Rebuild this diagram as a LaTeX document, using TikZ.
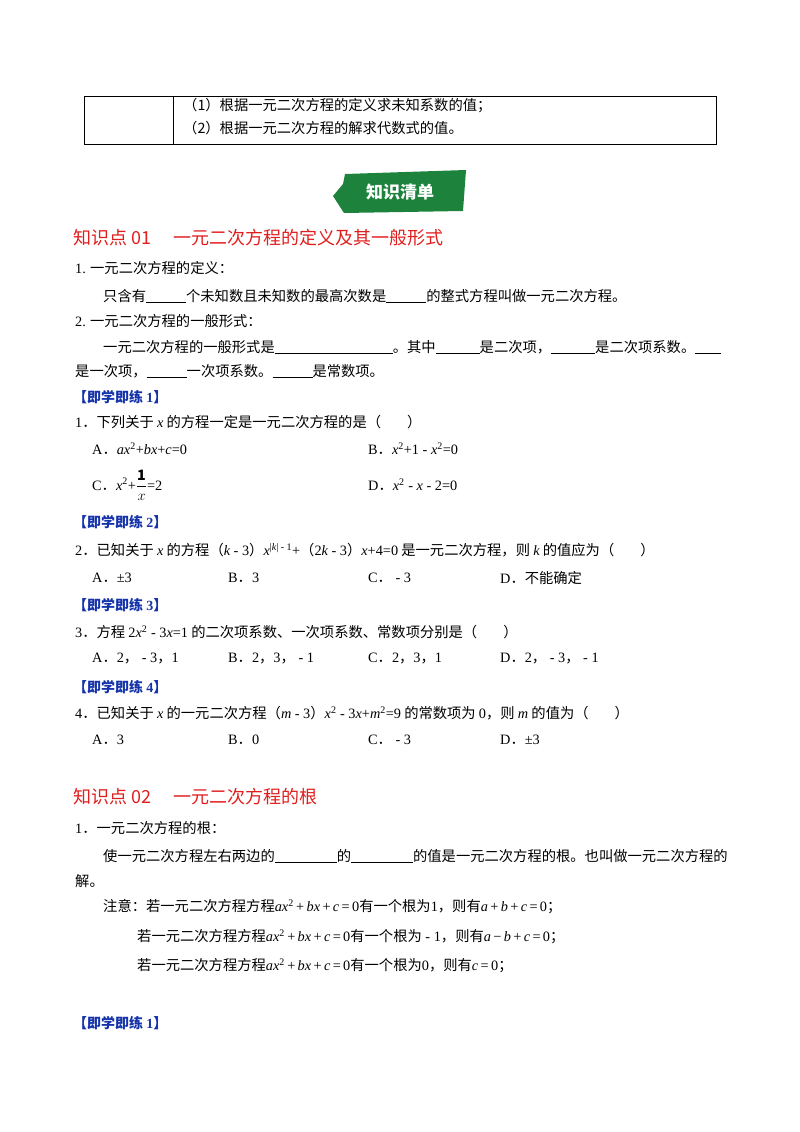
\documentclass[tikz,border=0pt]{standalone}
\usepackage{fontspec}
\setmainfont{Noto Sans CJK SC}
\newfontfamily\lt{Liberation Serif}
\definecolor{hred}{RGB}{225,30,30}
\definecolor{hblue}{RGB}{20,50,170}
\definecolor{bgreen}{RGB}{28,130,60}
\newcommand{\bl}[1]{\underline{\hspace{#1pt}}}
\newcommand{\vi}[1]{{\lt\itshape #1}}
\newcommand{\vr}[1]{{\lt #1}}
\begin{document}
\begin{tikzpicture}[x=1pt,y=-1pt,
  t/.style={anchor=west,inner sep=0pt,font=\fontsize{14.3}{16}\selectfont},
  hd/.style={anchor=west,inner sep=0pt,text=hred,font=\fontsize{18}{20}\selectfont},
  pr/.style={anchor=west,inner sep=0pt,text=hblue,font=\fontsize{14}{16}\selectfont\bfseries}]
\useasboundingbox (0,0) rectangle (800,1132);
\draw[line width=0.8pt] (84,96) rectangle (716,144);
\draw[line width=0.8pt] (173,96) -- (173,144);
\node[t] (r1) at (183,106) {（1）根据一元二次方程的定义求未知系数的值；};
\node[t] (r2) at (183,128) {（2）根据一元二次方程的解求代数式的值。};
\fill[bgreen] (345,174) -- (466,170) -- (463,211) -- (344,213) -- (333,196) -- (343,184) -- cycle;
\node[text=white,font=\fontsize{17}{19}\selectfont\bfseries] (ban) at (400,192) {知识清单};
\node[hd] (h1) at (73,238) {知识点 01\hspace{22pt}一元二次方程的定义及其一般形式};
\node[t] at (75,268) {\vr{1.} 一元二次方程的定义：};
\node[t] at (103,296) {只含有\bl{40}个未知数且未知数的最高次数是\bl{40}的整式方程叫做一元二次方程。};
\node[t] at (75,321) {\vr{2.} 一元二次方程的一般形式：};
\node[t] at (103,347) {一元二次方程的一般形式是\bl{118}。其中\bl{44}是二次项，\bl{44}是二次项系数。\bl{26}};
\node[t] at (75,371) {是一次项，\bl{40}一次项系数。\bl{40}是常数项。};
\node[pr] at (73,397) {【即学即练 \vr{1}】};
\node[t] at (75,422) {\vr{1}．下列关于 \vi{x} 的方程一定是一元二次方程的是（\hspace{26pt}）};
\node[t] at (92,449) {\vr{A}．\vi{ax}\vr{\textsuperscript{2}+}\vi{bx}\vr{+}\vi{c}\vr{=0}};
\node[t] at (368,449) {\vr{B}．\vi{x}\vr{\textsuperscript{2}+1 - }\vi{x}\vr{\textsuperscript{2}=0}};
\node[t] at (92,485) {\vr{C}．\vi{x}\vr{\textsuperscript{2}+}$\displaystyle\frac{\mathbf{1}}{x}$\vr{=2}};
\node[t] at (368,485) {\vr{D}．\vi{x}\vr{\textsuperscript{2} - }\vi{x}\vr{ - 2=0}};
\node[pr] at (73,522) {【即学即练 \vr{2}】};
\node[t] at (75,550) {\vr{2}．已知关于 \vi{x} 的方程（\vi{k}\vr{ - 3}）\vi{x}\textsuperscript{\vr{|}\vi{k}\vr{|\ - 1}}\vr{+}（\vr{2}\vi{k}\vr{ - 3}）\vi{x}\vr{+4=0} 是一元二次方程，则 \vi{k} 的值应为（\hspace{26pt}）};
\node[t] at (92,578) {\vr{A}．\vr{±3}};
\node[t] at (228,578) {\vr{B}．\vr{3}};
\node[t] at (368,578) {\vr{C}．\vr{ - 3}};
\node[t] at (500,578) {\vr{D}．不能确定};
\node[pr] at (73,605) {【即学即练 \vr{3}】};
\node[t] at (75,632) {\vr{3}．方程 \vr{2}\vi{x}\vr{\textsuperscript{2} - 3}\vi{x}\vr{=1} 的二次项系数、一次项系数、常数项分别是（\hspace{26pt}）};
\node[t] at (92,659) {\vr{A}．\vr{2}，\vr{ - 3}，\vr{1}};
\node[t] at (228,659) {\vr{B}．\vr{2}，\vr{3}，\vr{ - 1}};
\node[t] at (368,659) {\vr{C}．\vr{2}，\vr{3}，\vr{1}};
\node[t] at (500,659) {\vr{D}．\vr{2}，\vr{ - 3}，\vr{ - 1}};
\node[pr] at (73,687) {【即学即练 \vr{4}】};
\node[t] at (75,713) {\vr{4}．已知关于 \vi{x} 的一元二次方程（\vi{m}\vr{ - 3}）\vi{x}\vr{\textsuperscript{2} - 3}\vi{x}\vr{+}\vi{m}\vr{\textsuperscript{2}=9} 的常数项为 \vr{0}，则 \vi{m} 的值为（\hspace{26pt}）};
\node[t] at (92,740) {\vr{A}．\vr{3}};
\node[t] at (228,740) {\vr{B}．\vr{0}};
\node[t] at (368,740) {\vr{C}．\vr{ - 3}};
\node[t] at (500,740) {\vr{D}．\vr{±3}};
\node[hd] (h2) at (73,797) {知识点 02\hspace{22pt}一元二次方程的根};
\node[t] at (75,828) {\vr{1}．一元二次方程的根：};
\node[t] at (103,856) {使一元二次方程左右两边的\bl{62}的\bl{62}的值是一元二次方程的根。也叫做一元二次方程的};
\node[t] at (75,881) {解。};
\node[t] at (103,907) {注意：若一元二次方程方程\vi{ax}\vr{\textsuperscript{2}\,+\,}\vi{bx}\vr{\,+\,}\vi{c}\vr{\,=\,0}有一个根为\vr{1}，则有\vi{a}\vr{\,+\,}\vi{b}\vr{\,+\,}\vi{c}\vr{\,=\,0}；};
\node[t] at (137,937) {若一元二次方程方程\vi{ax}\vr{\textsuperscript{2}\,+\,}\vi{bx}\vr{\,+\,}\vi{c}\vr{\,=\,0}有一个根为\vr{ - 1}，则有\vi{a}\vr{\,−\,}\vi{b}\vr{\,+\,}\vi{c}\vr{\,=\,0}；};
\node[t] at (137,966) {若一元二次方程方程\vi{ax}\vr{\textsuperscript{2}\,+\,}\vi{bx}\vr{\,+\,}\vi{c}\vr{\,=\,0}有一个根为\vr{0}，则有\vi{c}\vr{\,=\,0}；};
\node[pr] at (73,1023) {【即学即练 \vr{1}】};
\end{tikzpicture}
\end{document}
